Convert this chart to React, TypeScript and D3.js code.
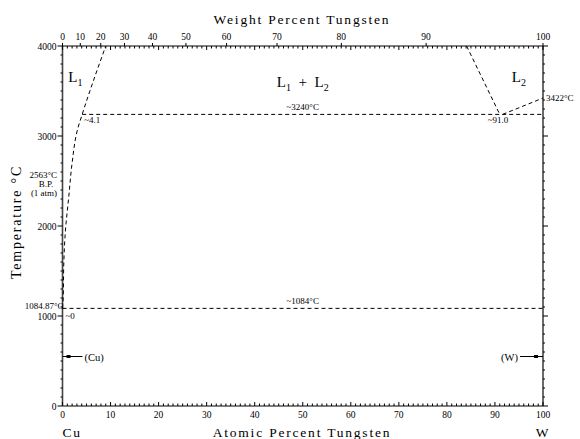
import { useEffect, useRef } from "react";
import * as d3 from "d3";

// Cu-W phase diagram (atomic % W vs temperature)
const atTicks = [0, 10, 20, 30, 40, 50, 60, 70, 80, 90, 100];
const wtTicks = [0, 10, 20, 30, 40, 50, 60, 70, 80, 90, 100];
const tempTicks = [0, 1000, 2000, 3000, 4000];
const massCu = 63.546;
const massW = 183.84;

// liquidus on the Cu side [at% W, °C]
const liquidusCu: [number, number][] = [
  [0, 1084.87], [0.15, 1211], [0.27, 1589], [0.62, 1956], [1.3, 2322],
  [2.0, 2700], [3.1, 3067], [4.1, 3240], [9.0, 4000],
];
// liquidus on the W side
const liquidusW: [number, number][] = [[84.1, 4000], [91.0, 3240]];
const liquidusW2: [number, number][] = [[91.6, 3240], [100, 3422]];
const monotecticT = 3240;
const monotecticRange = [4.1, 100];
const cuMeltT = 1084.87;
const wMeltT = 3422;
const cuBoilT = 2563;
const solidSolT = 550;

const W = 580, H = 439;
const mLeft = 62.5, mRight = 37, mTop = 46, mBottom = 33;

function wtToAt(w: number) {
  const nW = w / massW, nCu = (100 - w) / massCu;
  return (100 * nW) / (nW + nCu);
}

export default function App() {
  const ref = useRef<SVGSVGElement>(null);

  useEffect(() => {
    const svg = d3.select(ref.current);
    svg.selectAll("*").remove();

    const x = d3.scaleLinear().domain([0, 100]).range([mLeft, W - mRight]);
    const y = d3.scaleLinear().domain([0, 4000]).range([H - mBottom, mTop]);
    const x0 = x(0), x1 = x(100), y0 = y(0), y1 = y(4000);
    const font = "'Liberation Serif', serif";

    // frame
    const axisColor = "#444";
    svg.append("line").attr("x1", x0).attr("x2", x0).attr("y1", y0).attr("y2", y1)
      .attr("stroke", axisColor).attr("stroke-width", 1.6);
    svg.append("line").attr("x1", x1).attr("x2", x1).attr("y1", y0).attr("y2", y1)
      .attr("stroke", axisColor).attr("stroke-width", 1.6);
    svg.append("line").attr("x1", x0).attr("x2", x1).attr("y1", y0).attr("y2", y0)
      .attr("stroke", "#000").attr("stroke-width", 1);
    svg.append("line").attr("x1", x0).attr("x2", x1).attr("y1", y1).attr("y2", y1)
      .attr("stroke", "#000").attr("stroke-width", 1);

    const g = svg.append("g").attr("stroke", "#000").attr("stroke-width", 1);
    // at% ticks on top and bottom
    d3.range(0, 101, 1).forEach(v => {
      const len = v % 10 === 0 ? 4 : 2.5;
      g.append("line").attr("x1", x(v)).attr("x2", x(v)).attr("y1", y0).attr("y2", y0 - len);
      g.append("line").attr("x1", x(v)).attr("x2", x(v)).attr("y1", y1).attr("y2", y1 + len);
    });
    // temperature ticks on left and right
    d3.range(0, 4001, 100).forEach(v => {
      const major = v % 1000 === 0;
      g.append("line").attr("x1", x0 - (major ? 5 : 2)).attr("x2", x0).attr("y1", y(v)).attr("y2", y(v));
      g.append("line").attr("x1", x1).attr("x2", x1 + (major ? 5 : 2)).attr("y1", y(v)).attr("y2", y(v));
    });
    // weight % ticks on top
    wtTicks.forEach(w => {
      g.append("line").attr("x1", x(wtToAt(w))).attr("x2", x(wtToAt(w))).attr("y1", y1).attr("y2", y1 - 3);
    });

    // tick labels
    svg.append("g").attr("font-family", font).attr("font-size", 9.5).attr("text-anchor", "middle")
      .selectAll("text").data(atTicks).join("text")
      .attr("x", d => x(d)).attr("y", y0 + 12).text(d => d);
    svg.append("g").attr("font-family", font).attr("font-size", 9.5).attr("text-anchor", "middle")
      .selectAll("text").data(wtTicks).join("text")
      .attr("x", d => x(wtToAt(d))).attr("y", y1 - 6).text(d => d);
    svg.append("g").attr("font-family", font).attr("font-size", 9.5).attr("text-anchor", "end")
      .selectAll("text").data(tempTicks).join("text")
      .attr("x", x0 - 6).attr("y", d => y(d) + 4).text(d => d);

    // phase boundaries
    const curve = d3.line<[number, number]>().x(d => x(d[0])).y(d => y(d[1])).curve(d3.curveMonotoneY);
    const straight = d3.line<[number, number]>().x(d => x(d[0])).y(d => y(d[1]));
    const dashed = (sel: any) => sel.attr("fill", "none").attr("stroke", "#000")
      .attr("stroke-width", 1).attr("stroke-dasharray", "4,3");
    svg.append("path").attr("d", curve(liquidusCu)).call(dashed);
    svg.append("path").attr("d", straight(liquidusW)).call(dashed);
    svg.append("path").attr("d", straight(liquidusW2)).call(dashed);
    svg.append("line").attr("x1", x(monotecticRange[0])).attr("x2", x(monotecticRange[1]))
      .attr("y1", y(monotecticT)).attr("y2", y(monotecticT)).call(dashed);
    svg.append("line").attr("x1", x(0)).attr("x2", x(100))
      .attr("y1", y(cuMeltT)).attr("y2", y(cuMeltT)).call(dashed);

    // small annotations
    const ann = svg.append("g").attr("font-family", font).attr("font-size", 9);
    ann.append("text").attr("x", x(50)).attr("y", y(monotecticT) - 4).attr("text-anchor", "middle").text("~3240°C");
    ann.append("text").attr("x", x(50)).attr("y", y(cuMeltT) - 4).attr("text-anchor", "middle").text("~1084°C");
    ann.append("text").attr("x", x(4.1) + 2).attr("y", y(monotecticT) + 9).text("~4.1");
    ann.append("text").attr("x", x(91.0) - 12).attr("y", y(monotecticT) + 9).text("~91.0");
    ann.append("text").attr("x", x(0) + 3).attr("y", y(cuMeltT) + 11).text("~0");
    ann.append("text").attr("x", x(100) + 3).attr("y", y(wMeltT) + 3).text("3422°C");
    ann.append("text").attr("x", x(0) + 1).attr("y", y(cuMeltT) + 0.5).attr("text-anchor", "end").text("1084.87°C");
    ann.append("text").attr("x", 57).attr("y", y(cuBoilT) + 3).attr("text-anchor", "end").text("2563°C");
    ann.append("text").attr("x", 46).attr("y", y(cuBoilT) + 12).attr("text-anchor", "middle").text("B.P.");
    ann.append("text").attr("x", 44).attr("y", y(cuBoilT) + 21).attr("text-anchor", "middle").text("(1 atm)");

    // terminal solid solutions
    const ss = svg.append("g").attr("font-family", font).attr("font-size", 10.5);
    ss.append("line").attr("x1", x(0)).attr("x2", x(0) + 20).attr("y1", y(solidSolT)).attr("y2", y(solidSolT)).attr("stroke", "#000");
    ss.append("rect").attr("x", x(0) + 4).attr("y", y(solidSolT) - 1.5).attr("width", 4).attr("height", 3);
    ss.append("text").attr("x", x(0) + 22).attr("y", y(solidSolT) + 4).text("(Cu)");
    ss.append("line").attr("x1", x(100) - 23).attr("x2", x(100)).attr("y1", y(solidSolT)).attr("y2", y(solidSolT)).attr("stroke", "#000");
    ss.append("rect").attr("x", x(100) - 9).attr("y", y(solidSolT) - 1.5).attr("width", 4).attr("height", 3);
    ss.append("text").attr("x", x(100) - 25).attr("y", y(solidSolT) + 4).attr("text-anchor", "end").text("(W)");

    // phase labels, main text alternating with subscripts
    const ph = svg.append("g").attr("font-family", font).attr("font-size", 15);
    const lab = (px: number, py: number, txt: string[], anchor = "start") => {
      const t = ph.append("text").attr("x", px).attr("y", py).attr("text-anchor", anchor)
        .style("white-space", "pre");
      txt.forEach((s, i) => {
        if (i % 2 === 0) t.append("tspan").attr("dy", i === 0 ? 0 : -4).text(s);
        else t.append("tspan").attr("font-size", 10).attr("dy", 4).text(s);
      });
    };
    lab(x(1.2), y(3600), ["L", "1"]);
    lab(x(50), y(3550), ["L", "1", "  +  L", "2"], "middle");
    lab(x(93.5), y(3600), ["L", "2"]);

    // axis titles
    const title = svg.append("g").attr("font-family", font).attr("font-size", 13.5)
      .attr("letter-spacing", 1.8);
    title.append("text").attr("x", 302).attr("y", 24).attr("text-anchor", "middle").text("Weight Percent Tungsten");
    title.append("text").attr("x", 302).attr("y", 437).attr("text-anchor", "middle").text("Atomic Percent Tungsten");
    title.append("text").attr("x", x(0)).attr("y", 437).text("Cu");
    title.append("text").attr("x", x(100)).attr("y", 437).attr("text-anchor", "middle").text("W");
    title.append("text").attr("transform", `translate(21,222) rotate(-90)`)
      .attr("font-size", 14).attr("text-anchor", "middle").text("Temperature °C");
  }, []);

  return (
    <svg ref={ref} width={W} height={H}
      style={{ position: "absolute", left: 0, top: 0, background: "#fff" }} />
  );
}
